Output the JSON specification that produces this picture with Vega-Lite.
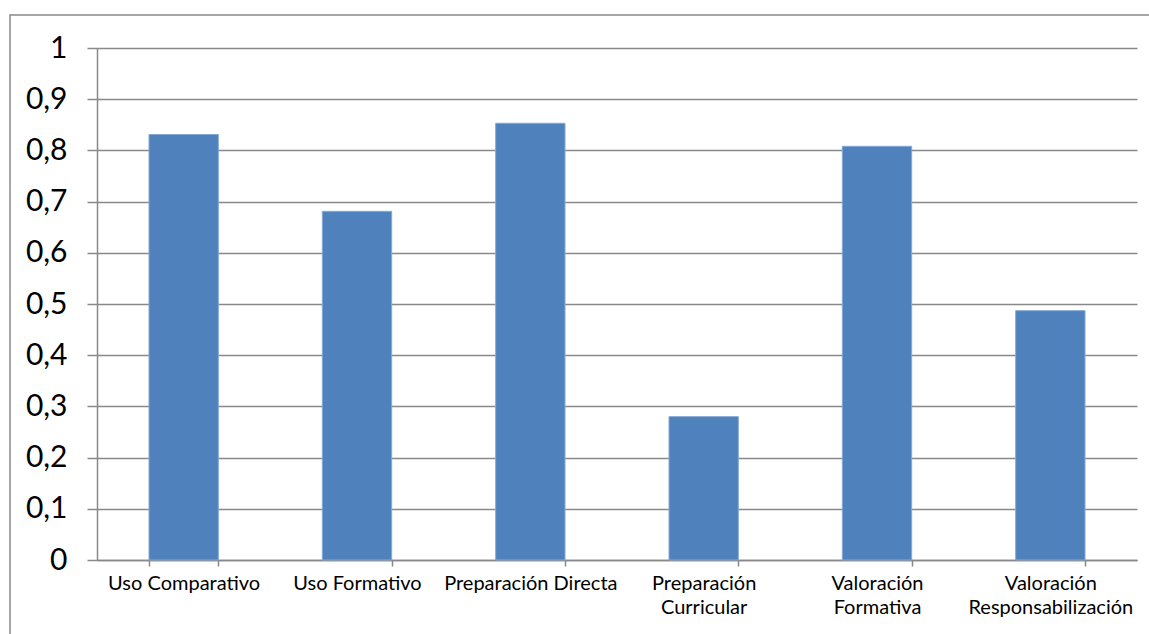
{
  "$schema": "https://vega.github.io/schema/vega-lite/v6.json",
  "usermeta": {"embedOptions": {"actions": false}},
  "width": 1145,
  "height": 625,
  "autosize": {"type": "none"},
  "padding": {"left": 10, "top": 15, "right": 0, "bottom": 0},
  "background": "white",
  "config": {
    "font": "Lato",
    "view": {"stroke": "#898989", "strokeWidth": 1.5}
  },
  "data": {
    "values": [
      {"categoria": "Uso Comparativo", "valor": 0.831},
      {"categoria": "Uso Formativo", "valor": 0.681},
      {"categoria": "Preparación Directa", "valor": 0.853},
      {"categoria": "Preparación Curricular", "valor": 0.28},
      {"categoria": "Valoración Formativa", "valor": 0.808},
      {"categoria": "Valoración Responsabilización", "valor": 0.487}
    ]
  },
  "mark": {"type": "bar", "color": "#4F81BD", "stroke": "#86a8d4", "strokeWidth": 1},
  "encoding": {
    "x": {
      "field": "categoria",
      "type": "nominal",
      "sort": null,
      "scale": {"range": [87, 1127], "paddingInner": 0.6, "paddingOuter": 0.3},
      "axis": {
        "title": null,
        "orient": "bottom",
        "offset": -80,
        "labelAngle": 0,
        "tickBand": "extent",
        "tickSize": 6,
        "tickColor": "#898989",
        "tickWidth": 1.5,
        "domainColor": "#898989",
        "domainWidth": 1.5,
        "grid": false,
        "labelFont": "Lato",
        "labelFontSize": 20,
        "labelColor": "#000000",
        "labelPadding": 7,
        "labelLineHeight": 24,
        "labelBaseline": "top",
        "labelExpr": "length(datum.label) > 19 ? split(datum.label, ' ') : datum.label"
      }
    },
    "y": {
      "field": "valor",
      "type": "quantitative",
      "scale": {"domain": [0, 1], "range": [545, 33], "nice": false},
      "axis": {
        "title": null,
        "offset": -87,
        "values": [0, 0.1, 0.2, 0.3, 0.4, 0.5, 0.6, 0.7, 0.8, 0.9, 1],
        "labelExpr": "replace(format(datum.value, '.1~f'), '.', ',')",
        "tickSize": 10,
        "tickColor": "#898989",
        "tickWidth": 1.5,
        "domainColor": "#898989",
        "domainWidth": 1.5,
        "grid": true,
        "gridColor": "#898989",
        "gridWidth": 1.5,
        "labelFont": "Lato",
        "labelFontSize": 30,
        "labelColor": "#000000",
        "labelPadding": 20
      }
    }
  }
}
